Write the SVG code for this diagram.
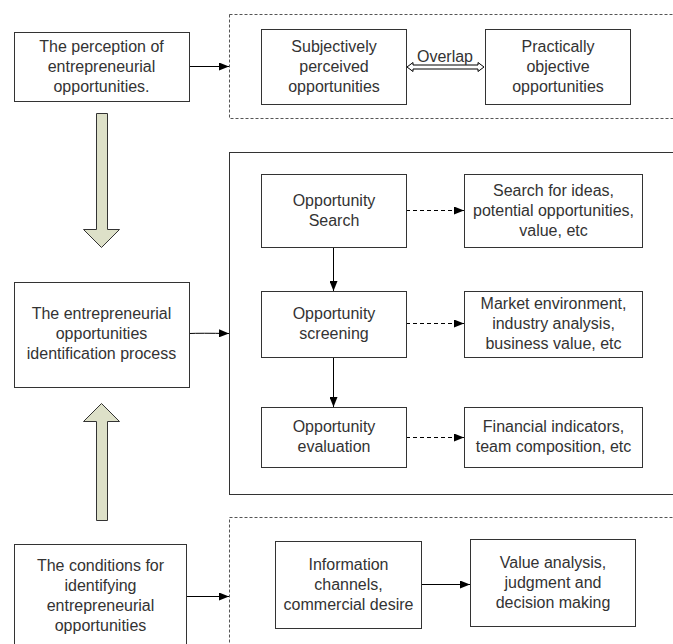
<svg xmlns="http://www.w3.org/2000/svg" width="673" height="644" viewBox="0 0 673 644">
<defs>
<style>
.box{fill:#fff;stroke:#333;stroke-width:1}
.dbox{fill:none;stroke:#555;stroke-width:1;stroke-dasharray:3 2}
.t{font-family:"Liberation Sans",Arial,sans-serif;font-size:16px;fill:#333;text-anchor:middle}
.c{fill:none;stroke:#000;stroke-width:1}
.cd{fill:none;stroke:#000;stroke-width:1;stroke-dasharray:4 3}
.big{fill:#dde0c8;stroke:#333;stroke-width:1}
</style>
<marker id="ah" viewBox="0 0 10 8" refX="10" refY="4" markerWidth="10" markerHeight="8" markerUnits="userSpaceOnUse" orient="auto">
<path d="M0,0 L10,4 L0,8 Z" fill="#000"/>
</marker>
</defs>
<rect width="673" height="644" fill="#fff"/>

<g id="containers">
<rect class="dbox" x="229.5" y="14.5" width="460" height="104"/>
<rect class="box" x="229.5" y="152.5" width="460" height="342" fill="none"/>
<rect class="dbox" x="229.5" y="517.5" width="460" height="140"/>
</g>

<g id="bigarrows">
<path class="big" d="M96.5,113.5 L107.5,113.5 L107.5,229.5 L119.5,229.5 L101.5,247.5 L83.5,229.5 L96.5,229.5 Z"/>
<path class="big" d="M96.5,520.5 L107.5,520.5 L107.5,421.5 L119.5,421.5 L101.5,403.5 L83.5,421.5 L96.5,421.5 Z"/>
</g>

<g id="connectors">
<line class="c" x1="189" y1="66.5" x2="229" y2="66.5" marker-end="url(#ah)"/>
<path class="c" d="M189,333.5 Q200,333 229,333.5" marker-end="url(#ah)"/>
<line class="c" x1="186" y1="596.5" x2="229" y2="596.5" marker-end="url(#ah)"/>
<line class="c" x1="333.5" y1="247" x2="333.5" y2="291" marker-end="url(#ah)"/>
<line class="c" x1="333.5" y1="357" x2="333.5" y2="407" marker-end="url(#ah)"/>
<line class="cd" x1="406" y1="210.5" x2="464" y2="210.5" marker-end="url(#ah)"/>
<line class="cd" x1="406" y1="323.5" x2="464" y2="323.5" marker-end="url(#ah)"/>
<line class="cd" x1="406" y1="437.5" x2="464" y2="437.5" marker-end="url(#ah)"/>
<line class="c" x1="421" y1="584.5" x2="470" y2="584.5" marker-end="url(#ah)"/>
<path d="M407,67 L413,62.5 L413,65 L478,65 L478,62.5 L484,67 L478,71.5 L478,69 L413,69 L413,71.5 Z" fill="#fff" stroke="#000" stroke-width="1"/>
<text class="t" x="445" y="62">Overlap</text>
</g>

<g id="n1">
<rect class="box" x="14.5" y="32.5" width="175" height="69"/>
<text class="t" x="101.5" y="52">The perception of</text>
<text class="t" x="101.5" y="72">entrepreneurial</text>
<text class="t" x="101.5" y="92">opportunities.</text>
</g>
<g id="n2">
<rect class="box" x="261.5" y="29.5" width="145" height="75"/>
<text class="t" x="334" y="52">Subjectively</text>
<text class="t" x="334" y="72">perceived</text>
<text class="t" x="334" y="92">opportunities</text>
</g>
<g id="n3">
<rect class="box" x="485.5" y="29.5" width="145" height="75"/>
<text class="t" x="558" y="52">Practically</text>
<text class="t" x="558" y="72">objective</text>
<text class="t" x="558" y="92">opportunities</text>
</g>
<g id="n4">
<rect class="box" x="14.5" y="282.5" width="175" height="105"/>
<text class="t" x="101.5" y="319">The entrepreneurial</text>
<text class="t" x="101.5" y="339">opportunities</text>
<text class="t" x="101.5" y="359">identification process</text>
</g>
<g id="n5">
<rect class="box" x="261.5" y="174.5" width="145" height="73"/>
<text class="t" x="334" y="206">Opportunity</text>
<text class="t" x="334" y="226">Search</text>
</g>
<g id="n6">
<rect class="box" x="261.5" y="291.5" width="145" height="66"/>
<text class="t" x="334" y="319">Opportunity</text>
<text class="t" x="334" y="339">screening</text>
</g>
<g id="n7">
<rect class="box" x="261.5" y="407.5" width="145" height="60"/>
<text class="t" x="334" y="432">Opportunity</text>
<text class="t" x="334" y="452">evaluation</text>
</g>
<g id="n8">
<rect class="box" x="464.5" y="174.5" width="178" height="73"/>
<text class="t" x="553.5" y="196">Search for ideas,</text>
<text class="t" x="553.5" y="216">potential opportunities,</text>
<text class="t" x="553.5" y="236">value, etc</text>
</g>
<g id="n9">
<rect class="box" x="464.5" y="291.5" width="178" height="66"/>
<text class="t" x="553.5" y="309">Market environment,</text>
<text class="t" x="553.5" y="329">industry analysis,</text>
<text class="t" x="553.5" y="349">business value, etc</text>
</g>
<g id="n10">
<rect class="box" x="464.5" y="407.5" width="178" height="60"/>
<text class="t" x="553.5" y="432">Financial indicators,</text>
<text class="t" x="553.5" y="452">team composition, etc</text>
</g>
<g id="n11">
<rect class="box" x="14.5" y="544.5" width="172" height="105"/>
<text class="t" x="100.5" y="571">The conditions for</text>
<text class="t" x="100.5" y="591">identifying</text>
<text class="t" x="100.5" y="611">entrepreneurial</text>
<text class="t" x="100.5" y="631">opportunities</text>
</g>
<g id="n12">
<rect class="box" x="275.5" y="541.5" width="146" height="87"/>
<text class="t" x="348.5" y="570">Information</text>
<text class="t" x="348.5" y="590">channels,</text>
<text class="t" x="348.5" y="610">commercial desire</text>
</g>
<g id="n13">
<rect class="box" x="470.5" y="539.5" width="165" height="87"/>
<text class="t" x="553" y="568">Value analysis,</text>
<text class="t" x="553" y="588">judgment and</text>
<text class="t" x="553" y="608">decision making</text>
</g>
</svg>
